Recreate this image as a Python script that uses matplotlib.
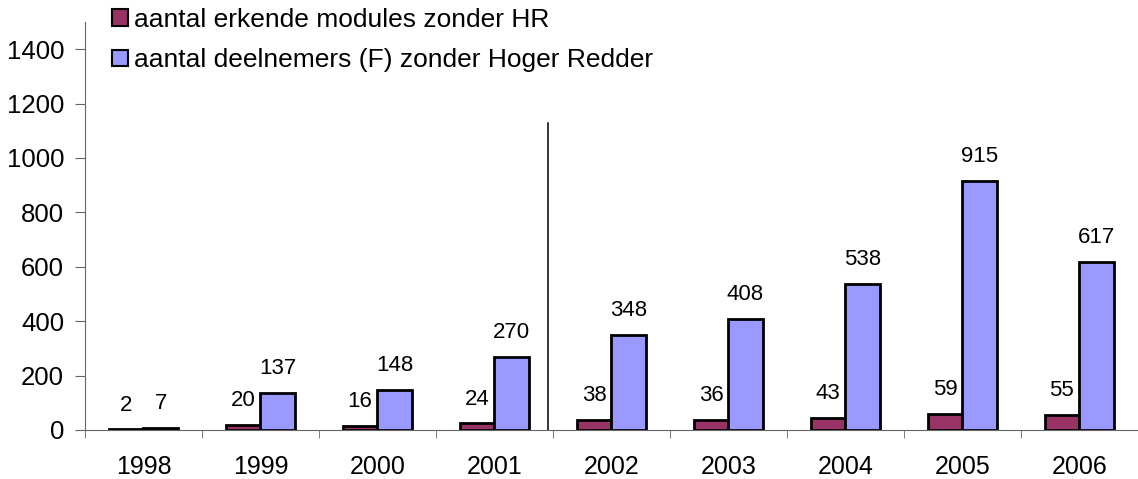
import numpy as np
import matplotlib.pyplot as plt
from matplotlib.patches import Patch

plt.rcParams['font.family'] = ['Liberation Sans', 'DejaVu Sans']

years = ['1998', '1999', '2000', '2001', '2002', '2003', '2004', '2005', '2006']
modules = [2, 20, 16, 24, 38, 36, 43, 59, 55]
deelnemers = [7, 137, 148, 270, 348, 408, 538, 915, 617]
labels = ['aantal erkende modules zonder HR', 'aantal deelnemers (F) zonder Hoger Redder']
c_mod = '#993366'
c_dln = '#9999FF'

fig = plt.figure(figsize=(11.38, 4.79), dpi=100)
ax = fig.add_axes([0.0747, 0.1023, 0.925, 0.852])

x = np.arange(len(years))
w = 0.295
b1 = ax.bar(x - w / 2, modules, w, color=c_mod, edgecolor='black', linewidth=2)
b2 = ax.bar(x + w / 2, deelnemers, w, color=c_dln, edgecolor='black', linewidth=2)

for bars, vals in ((b1, modules), (b2, deelnemers)):
    for r, v in zip(bars, vals):
        ax.annotate(str(v), (r.get_x() + r.get_width() / 2, v), xytext=(0, 10),
                    textcoords='offset points', ha='center', va='bottom', fontsize=16)

# separator between 2001 and 2002
ax.plot([3.457, 3.457], [0, 1130], color='black', lw=1.1)

ax.set_xlim(-0.5, 8.5)
ax.set_ylim(0, 1500)
ax.set_yticks(range(0, 1401, 200))
ax.set_xticks(x)
ax.set_xticklabels(years)
ax.set_xticks(np.arange(-0.5, 8.6, 1), minor=True)
ax.tick_params(axis='x', which='major', length=0, labelsize=18, pad=18)
ax.tick_params(axis='x', which='minor', length=6, color='#666666')
ax.tick_params(axis='y', length=7, color='#666666', labelsize=18.5, pad=8)

for s in ('top', 'right'):
    ax.spines[s].set_visible(False)
for s in ('left', 'bottom'):
    ax.spines[s].set_color('#666666')

handles = [Patch(facecolor=c_mod, edgecolor='black', linewidth=1.5),
           Patch(facecolor=c_dln, edgecolor='black', linewidth=1.5)]
fig.legend(handles, labels, loc='upper left', bbox_to_anchor=(112 / 1138, 1 - 8 / 479), frameon=False,
           fontsize=19, handlelength=0.6, handleheight=0.6, handletextpad=0.25,
           labelspacing=0.62, borderaxespad=0, borderpad=0)

fig.savefig('out.png', dpi=100)
